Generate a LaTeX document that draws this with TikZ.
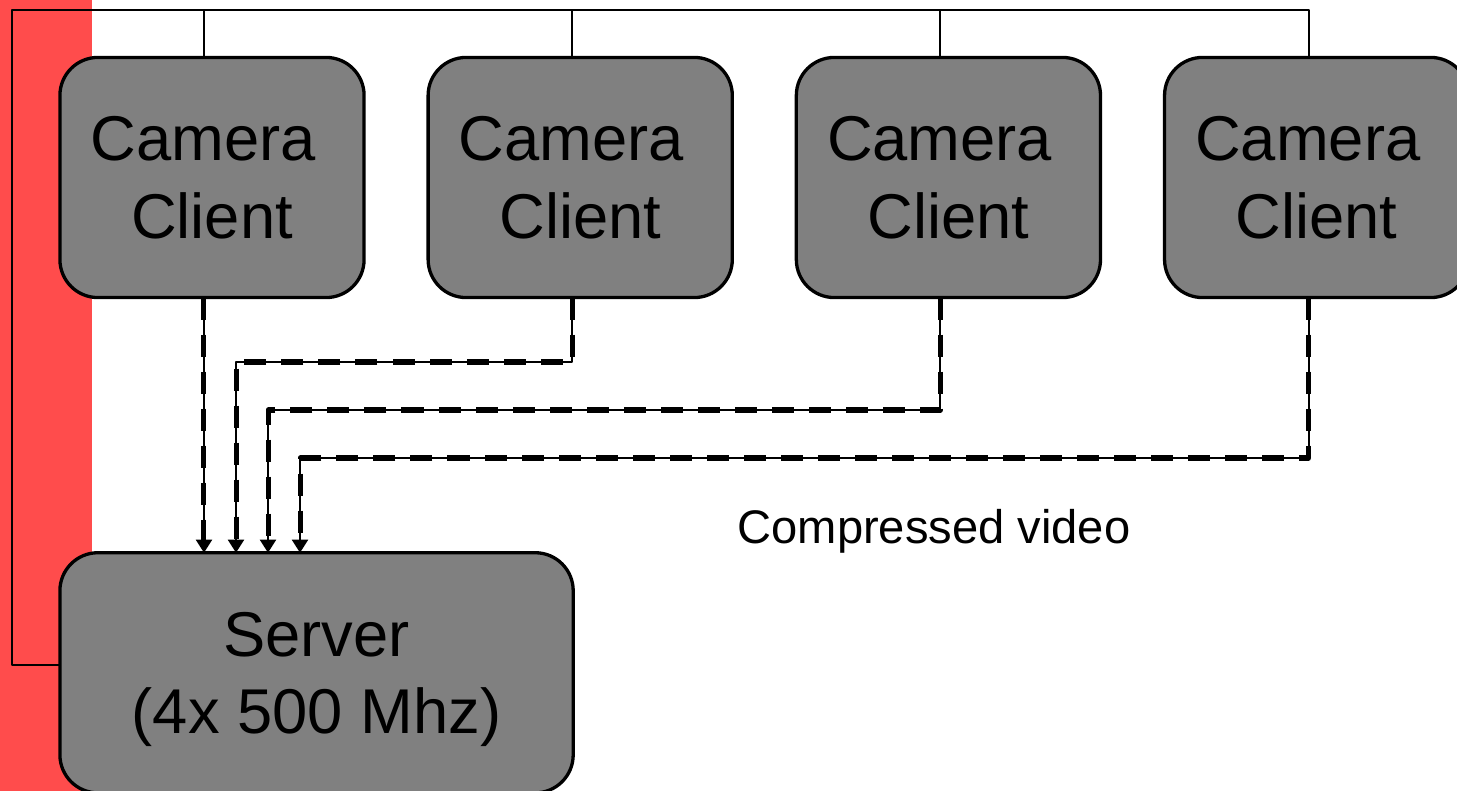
\documentclass[tikz,border=0pt]{standalone}
\usepackage{fontspec}
\setmainfont{Liberation Sans}
\usetikzlibrary{arrows.meta,positioning}
\definecolor{band}{RGB}{255,76,76}
\definecolor{boxgray}{RGB}{128,128,128}

\begin{document}
\begin{tikzpicture}[x=0.01cm,y=-0.01cm,join=round,
    unit/.style={draw=black,line width=0.033cm,fill=boxgray,rounded corners=0.38cm,
      inner sep=0pt,outer sep=0pt,align=center,text depth=0pt,font=\fontsize{18}{22}\selectfont},
    cam/.style={unit,minimum width=3.04cm,minimum height=2.40cm},
    srv/.style={unit,minimum width=5.13cm,minimum height=2.40cm},
    bus/.style={line width=0.02cm},
    feed/.style={line width=0.02cm,-{Triangle[width=0.16cm,length=0.13cm]},
      postaction={draw,-,line width=0.05cm,dash pattern=on 0.22cm off 0.15cm,shorten >=0.13cm}}]
         \useasboundingbox (0,0) rectangle (1457,791);
         \clip (0,0) rectangle (1457,791);
         \fill[band] (0,0) rectangle (92,791);
         % clients and server
         \node[cam] (cam1) at (212,177.5) {Camera\kern0.278em\\Client};
         \node[cam,right=0.64cm of cam1] (cam2) {Camera\kern0.278em\\Client};
         \node[cam,right=0.64cm of cam2] (cam3) {Camera\kern0.278em\\Client};
         \node[cam,right=0.64cm of cam3] (cam4) {Camera\kern0.278em\\Client};
         \node[srv,below=2.55cm of cam1.south west,anchor=north west] (server) {Server\\(4x 500 Mhz)};
         \node[font=\fontsize{13.4}{15}\selectfont,anchor=base] (lbl) at (934,543) {Compressed video};
         \foreach \i in {1,...,4}{
           \coordinate (d\i) at ([xshift=-0.08cm]cam\i.north);
           \coordinate (u\i) at ([xshift=-0.08cm]cam\i.south);
         }
         \coordinate (corner) at (12,10);
         % control bus
         \draw[bus] (server.west |- 0,665) -| (corner) -| (d4);
         \foreach \i in {1,2,3}
           \draw[bus] (d\i) -- (d\i |- corner);
         % video feeds
         \draw[feed] (u1) -- (u1 |- server.north);
         \foreach \i/\x/\y in {2/236/362,3/268/410,4/300/458}{
           \coordinate (k\i) at (\x,\y);
           \draw[feed] (u\i) |- (k\i) -- (k\i |- server.north);
         }
\end{tikzpicture}
\end{document}
